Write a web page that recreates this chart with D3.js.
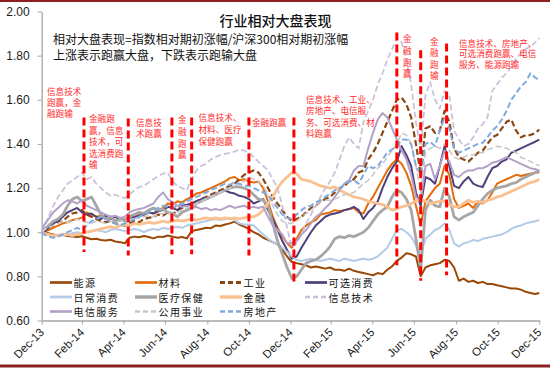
<!DOCTYPE html>
<html><head><meta charset="utf-8">
<script src="https://cdn.jsdelivr.net/npm/d3@7/dist/d3.min.js"></script>
<style>body{margin:0;background:#fff;}svg{display:block;}</style>
</head><body><svg id="c" width="550" height="368"></svg>
<script>
// ---------------- DATA ----------------
const seriesNames = ["能源","材料","工业","可选消费","日常消费","医疗保健","金融","信息技术","电信服务","公用事业","房地产"];

// weekly observations: 2013-12-31, every Friday of 2014-2015, 2015-12-31
const energy = [
1.00,1.00,0.995,0.99,0.985,0.988,0.983,0.98,0.978,0.982,
0.975,0.968,0.97,0.965,0.962,0.966,0.958,0.955,0.95,0.975,
0.98,0.977,0.983,0.978,0.972,0.98,0.978,0.985,0.98,0.975,
0.978,0.972,1.005,1.01,1.015,1.02,1.018,1.03,1.028,1.035,
1.04,1.048,1.035,1.025,1.015,1.00,0.99,0.975,0.965,0.955,
0.945,0.92,0.89,0.865,0.86,0.855,0.85,0.84,0.845,0.84,
0.835,0.84,0.83,0.83,0.825,0.835,0.825,0.82,0.815,0.81,
0.805,0.815,0.81,0.83,0.845,0.87,0.885,0.905,0.90,0.89,
0.80,0.84,0.85,0.855,0.86,0.875,0.87,0.84,0.78,0.79,
0.775,0.78,0.77,0.775,0.765,0.765,0.76,0.755,0.75,0.745,
0.745,0.74,0.73,0.725,0.72,0.725];
const materials = [
1.00,1.00,1.01,1.02,1.03,1.04,1.045,1.055,1.06,1.065,
1.09,1.08,1.07,1.075,1.065,1.06,1.055,1.06,1.055,1.075,
1.08,1.085,1.08,1.09,1.085,1.10,1.11,1.13,1.125,1.14,
1.135,1.15,1.16,1.175,1.18,1.19,1.20,1.21,1.22,1.23,
1.245,1.25,1.235,1.24,1.23,1.225,1.23,1.20,1.14,1.07,
1.02,0.98,0.95,0.93,0.97,1.01,1.03,1.045,1.055,1.08,
1.085,1.09,1.10,1.095,1.10,1.105,1.11,1.09,1.085,1.13,
1.16,1.20,1.24,1.28,1.31,1.33,1.31,1.27,1.21,1.12,
1.03,1.14,1.17,1.20,1.22,1.30,1.26,1.15,1.11,1.12,
1.13,1.11,1.14,1.13,1.145,1.18,1.22,1.23,1.24,1.25,
1.26,1.255,1.26,1.265,1.27,1.27];
const industrials = [
1.00,1.00,1.02,1.03,1.045,1.05,1.07,1.085,1.09,1.10,
1.08,1.07,1.06,1.05,1.045,1.05,1.04,1.035,1.03,1.04,
1.05,1.045,1.06,1.065,1.07,1.08,1.075,1.09,1.08,1.10,
1.11,1.12,1.13,1.14,1.15,1.16,1.17,1.18,1.19,1.20,
1.21,1.22,1.24,1.26,1.27,1.28,1.27,1.24,1.20,1.16,
1.13,1.10,1.07,1.05,1.06,1.07,1.09,1.11,1.12,1.14,
1.15,1.16,1.18,1.20,1.21,1.23,1.24,1.27,1.28,1.33,
1.36,1.40,1.45,1.50,1.55,1.60,1.61,1.58,1.52,1.40,
1.26,1.47,1.48,1.45,1.46,1.55,1.50,1.38,1.34,1.33,
1.32,1.34,1.36,1.37,1.40,1.43,1.44,1.47,1.50,1.51,
1.46,1.43,1.44,1.44,1.45,1.465];
const consDisc = [
1.00,1.00,1.02,1.04,1.05,1.07,1.09,1.10,1.11,1.09,
1.08,1.085,1.07,1.06,1.075,1.065,1.07,1.06,1.055,1.065,
1.07,1.075,1.08,1.09,1.085,1.095,1.10,1.115,1.11,1.10,
1.12,1.125,1.13,1.14,1.15,1.155,1.16,1.17,1.185,1.19,
1.18,1.175,1.165,1.16,1.15,1.13,1.14,1.15,1.10,1.06,
1.01,0.96,0.92,0.88,0.89,0.93,0.965,1.00,1.03,1.05,
1.07,1.08,1.085,1.09,1.10,1.105,1.115,1.10,1.06,1.09,
1.11,1.14,1.20,1.25,1.29,1.32,1.39,1.35,1.30,1.18,
1.12,1.25,1.24,1.22,1.30,1.39,1.30,1.21,1.20,1.23,
1.25,1.22,1.21,1.205,1.25,1.29,1.30,1.32,1.33,1.36,
1.37,1.38,1.39,1.40,1.41,1.42];
const staples = [
1.00,0.995,0.99,0.985,0.99,0.985,0.99,0.995,1.00,0.995,
1.00,1.005,1.01,1.005,1.00,1.01,1.015,1.01,1.005,1.01,
1.015,1.01,1.00,1.01,1.015,1.01,1.02,1.015,1.02,1.025,
1.02,1.03,1.035,1.04,1.045,1.05,1.055,1.06,1.055,1.06,
1.065,1.055,1.04,1.035,1.035,1.03,1.01,0.99,0.97,0.955,
0.945,0.93,0.91,0.89,0.875,0.87,0.875,0.88,0.875,0.87,
0.875,0.88,0.875,0.87,0.88,0.875,0.87,0.875,0.88,0.875,
0.88,0.89,0.91,0.93,0.97,1.01,1.015,1.00,0.98,0.94,
0.90,0.97,0.99,1.01,1.02,1.04,1.01,0.95,0.935,0.95,
0.955,0.965,0.96,0.97,0.975,0.98,0.985,0.99,1.00,1.015,
1.025,1.03,1.04,1.045,1.05,1.055];
const healthcare = [
1.00,1.01,1.03,1.05,1.06,1.08,1.12,1.15,1.16,1.14,
1.15,1.16,1.12,1.08,1.06,1.07,1.05,1.06,1.05,1.07,
1.08,1.09,1.085,1.10,1.11,1.10,1.105,1.09,1.085,1.07,
1.09,1.10,1.11,1.13,1.14,1.15,1.16,1.17,1.18,1.19,
1.20,1.205,1.205,1.20,1.19,1.17,1.15,1.145,1.12,1.04,
0.96,0.90,0.84,0.79,0.80,0.83,0.86,0.87,0.875,0.89,
0.91,0.935,0.97,0.98,0.975,0.985,0.98,0.99,1.00,1.02,
1.05,1.08,1.10,1.115,1.16,1.19,1.18,1.15,1.10,0.97,
0.83,1.10,1.145,1.12,1.115,1.20,1.16,1.07,1.055,1.07,
1.08,1.09,1.12,1.15,1.175,1.19,1.20,1.205,1.21,1.22,
1.225,1.24,1.25,1.26,1.27,1.28];
const financials = [
1.00,0.995,0.99,0.985,0.985,0.99,0.99,0.985,0.99,0.995,
1.00,1.005,1.01,1.015,1.02,1.025,1.02,1.03,1.035,1.03,
1.04,1.035,1.04,1.045,1.04,1.045,1.05,1.045,1.05,1.055,
1.05,1.055,1.06,1.055,1.06,1.065,1.06,1.065,1.06,1.065,
1.06,1.065,1.06,1.065,1.07,1.07,1.08,1.10,1.13,1.16,
1.20,1.23,1.25,1.27,1.265,1.24,1.235,1.23,1.22,1.21,
1.205,1.20,1.205,1.19,1.18,1.17,1.16,1.155,1.15,1.14,
1.135,1.13,1.125,1.115,1.10,1.105,1.115,1.12,1.13,1.14,
1.15,1.14,1.13,1.135,1.14,1.14,1.125,1.115,1.115,1.13,
1.145,1.135,1.14,1.135,1.145,1.15,1.16,1.165,1.175,1.185,
1.195,1.205,1.215,1.225,1.23,1.24];
const infoTech = [
1.00,1.02,1.07,1.12,1.16,1.19,1.22,1.235,1.25,1.27,
1.24,1.25,1.22,1.20,1.18,1.165,1.17,1.16,1.155,1.17,
1.19,1.205,1.21,1.225,1.24,1.255,1.265,1.27,1.23,1.21,
1.20,1.19,1.24,1.28,1.30,1.31,1.33,1.34,1.35,1.355,
1.36,1.365,1.375,1.37,1.36,1.34,1.32,1.30,1.28,1.24,
1.20,1.12,1.02,0.93,0.95,0.99,1.04,1.08,1.12,1.16,
1.20,1.23,1.27,1.33,1.39,1.43,1.40,1.38,1.50,1.55,
1.60,1.67,1.72,1.78,1.83,1.88,1.86,1.78,1.67,1.50,
1.37,1.62,1.68,1.60,1.56,1.64,1.62,1.46,1.42,1.39,
1.40,1.43,1.47,1.49,1.52,1.64,1.67,1.70,1.72,1.75,
1.79,1.81,1.83,1.84,1.86,1.88];
const telecom = [
1.00,1.03,1.06,1.09,1.11,1.13,1.145,1.14,1.13,1.145,
1.12,1.11,1.10,1.09,1.08,1.07,1.075,1.065,1.07,1.09,
1.10,1.105,1.11,1.12,1.13,1.16,1.18,1.15,1.135,1.12,
1.115,1.12,1.11,1.115,1.105,1.11,1.10,1.105,1.10,1.11,
1.12,1.11,1.115,1.12,1.11,1.115,1.11,1.115,1.07,1.03,
1.01,0.99,0.95,0.95,0.96,0.99,1.01,1.04,1.07,1.085,
1.11,1.13,1.16,1.19,1.22,1.235,1.28,1.30,1.30,1.38,
1.45,1.51,1.54,1.52,1.47,1.42,1.37,1.33,1.26,1.16,
1.14,1.30,1.31,1.24,1.30,1.37,1.32,1.26,1.25,1.27,
1.28,1.28,1.29,1.29,1.30,1.315,1.32,1.33,1.34,1.33,
1.32,1.31,1.30,1.29,1.285,1.28];
const utilities = [
1.00,1.01,1.02,1.03,1.04,1.05,1.045,1.05,1.06,1.05,
1.045,1.04,1.05,1.045,1.04,1.05,1.045,1.05,1.055,1.05,
1.06,1.065,1.07,1.075,1.07,1.08,1.085,1.09,1.08,1.09,
1.10,1.11,1.12,1.13,1.14,1.15,1.16,1.17,1.18,1.19,
1.20,1.21,1.22,1.23,1.25,1.24,1.23,1.21,1.17,1.12,
1.08,1.05,1.04,1.04,1.05,1.07,1.085,1.10,1.12,1.14,
1.145,1.145,1.15,1.16,1.17,1.175,1.18,1.20,1.22,1.235,
1.26,1.29,1.31,1.34,1.37,1.40,1.45,1.44,1.40,1.30,
1.18,1.36,1.38,1.39,1.38,1.40,1.37,1.34,1.33,1.34,
1.35,1.35,1.36,1.36,1.375,1.38,1.39,1.385,1.38,1.37,
1.36,1.34,1.33,1.32,1.31,1.30];
const realEstate = [
1.00,0.99,0.98,0.975,0.98,0.99,1.00,1.01,1.02,1.01,
1.03,1.05,1.06,1.07,1.06,1.05,1.04,1.03,1.04,1.05,
1.06,1.07,1.08,1.09,1.10,1.11,1.12,1.115,1.11,1.12,
1.13,1.14,1.15,1.16,1.17,1.18,1.19,1.20,1.21,1.22,
1.215,1.225,1.22,1.21,1.21,1.20,1.19,1.18,1.17,1.14,
1.11,1.08,1.065,1.06,1.08,1.10,1.115,1.12,1.135,1.145,
1.16,1.175,1.19,1.20,1.215,1.23,1.235,1.22,1.26,1.30,
1.29,1.30,1.33,1.36,1.375,1.39,1.42,1.42,1.40,1.30,
1.26,1.40,1.41,1.39,1.46,1.52,1.47,1.38,1.36,1.37,
1.38,1.39,1.40,1.405,1.43,1.46,1.48,1.51,1.55,1.60,
1.63,1.66,1.68,1.72,1.70,1.69];

const tickDates  = ["2013-12-31","2014-02-28","2014-04-30","2014-06-30","2014-08-31","2014-10-31","2014-12-31","2015-02-28","2015-04-30","2015-06-30","2015-08-31","2015-10-31","2015-12-31"];
const tickLabels = ["Dec-13","Feb-14","Apr-14","Jun-14","Aug-14","Oct-14","Dec-14","Feb-15","Apr-15","Jun-15","Aug-15","Oct-15","Dec-15"];
const yTicks = [0.6,0.8,1.0,1.2,1.4,1.6,1.8,2.0];

// event markers (date, value range covered by the red dashed line)
const eventDates  = ["2014-03-03","2014-05-07","2014-07-10","2014-08-08","2014-10-31","2015-01-05","2015-06-05","2015-07-10","2015-08-17"];
const eventTop    = [1.52,1.515,1.52,1.52,1.52,1.52,1.905,1.825,1.855];
const eventBottom = [0.91,0.895,0.90,0.90,0.895,0.76,0.85,0.78,0.805];

const titleText = "行业相对大盘表现";
const noteLines = ["相对大盘表现=指数相对期初涨幅/沪深300相对期初涨幅","上涨表示跑赢大盘，下跌表示跑输大盘"];
const eventNotes = [
  ["信息技术","跑赢，金","融跑输"],
  ["金融跑","赢，信息","技术，可","选消费跑","输"],
  ["信息技","术跑赢"],
  ["金","融","跑","赢"],
  ["信息技术、","材料、医疗","保健跑赢"],
  ["金融跑赢"],
  ["信息技术、工业、","房地产、电信服","务、可选消费、材","料跑赢"],
  ["金","融","跑","赢"],
  ["金","融","跑","输"],
  ["信息技术、房地产、","可选消费跑赢、电信","服务、能源跑输"]
];

// ---------------- DRAWING ----------------
const allSeries = [energy,materials,industrials,consDisc,staples,healthcare,financials,infoTech,telecom,utilities,realEstate];
const styles = {
  "能源":    {c:"#984807", w:2,   d:null},
  "材料":    {c:"#E46C0A", w:2,   d:null},
  "工业":    {c:"#8B4510", w:2.2, d:"6,3"},
  "可选消费": {c:"#4F3F7A", w:2,   d:null},
  "日常消费": {c:"#B3CBE8", w:2,   d:null},
  "医疗保健": {c:"#A6A6A6", w:2.8, d:null},
  "金融":    {c:"#FAC090", w:2.8, d:null},
  "信息技术": {c:"#CCC1DA", w:1.8, d:"6,3"},
  "电信服务": {c:"#B3A2C7", w:2,   d:null},
  "公用事业": {c:"#C8C8C8", w:1.6, d:"6,3"},
  "房地产":  {c:"#7FAADF", w:2,   d:"6,3"}
};
const cjk = "'Noto Sans CJK SC','Noto Sans',sans-serif";
const lat = "'Liberation Sans',Arial,sans-serif";

const svg = d3.select("#c");
const plot = {left:41.7, right:539.3, top:11.5, bottom:320.5};
const parse = d3.timeParse("%Y-%m-%d");
const obsDates = [parse("2013-12-31"), ...d3.timeFriday.range(parse("2014-01-01"), parse("2015-12-26")), parse("2015-12-31")];

const x = d3.scaleTime().domain([parse("2013-12-31"), parse("2015-12-31")]).range([plot.left, plot.right]);
const y = d3.scaleLinear().domain([0.6, 2.0]).range([plot.bottom, plot.top]);

svg.append("rect").attr("width",550).attr("height",368).attr("fill","#fff");
svg.append("rect").attr("x",0).attr("y",0).attr("width",550).attr("height",2).attr("fill","#8C2020");
svg.append("rect").attr("x",0).attr("y",364.5).attr("width",550).attr("height",3).attr("fill","#8C2020");

// y axis
const ya = svg.append("g").attr("transform",`translate(${plot.left},0)`)
  .call(d3.axisLeft(y).tickValues(yTicks).tickFormat(d3.format(".2f")).tickSize(4).tickSizeOuter(0).tickPadding(8));
ya.select(".domain").attr("stroke","#A6A6A6").attr("stroke-width",1.3);
ya.selectAll(".tick line").attr("stroke","#A6A6A6");
ya.selectAll("text").attr("font-family",lat).attr("font-size",12).attr("fill","#1a1a1a");

// x axis
const xa = svg.append("g").attr("transform",`translate(0,${plot.bottom})`)
  .call(d3.axisBottom(x).tickValues(tickDates.map(parse)).tickFormat((d,i)=>tickLabels[i]).tickSize(4).tickSizeOuter(0));
xa.select(".domain").attr("stroke","#A6A6A6").attr("stroke-width",1.3);
xa.selectAll(".tick line").attr("stroke","#A6A6A6");
xa.selectAll("text").attr("y",null).attr("dy",null).attr("x",null)
  .attr("text-anchor","end").attr("transform","translate(2.5,12.5) rotate(-45)")
  .attr("font-family",lat).attr("font-size",11.5).attr("fill","#1a1a1a");

// series
const line = d3.line().x(d=>x(d[0])).y(d=>y(d[1]));
allSeries.forEach((vals,i)=>{
  const st = styles[seriesNames[i]];
  const pts = vals.map((v,k)=>[obsDates[k],v]).filter(p=>p[0]);
  svg.append("path").datum(pts).attr("d",line)
    .attr("fill","none").attr("stroke",st.c).attr("stroke-width",st.w)
    .attr("stroke-dasharray",st.d).attr("stroke-linejoin","round");
});

// red event markers
eventDates.forEach((d,i)=>{
  const xx = x(parse(d));
  svg.append("line").attr("x1",xx).attr("x2",xx).attr("y1",y(eventTop[i])).attr("y2",y(eventBottom[i]))
    .attr("stroke","#FF0000").attr("stroke-width",3).attr("stroke-dasharray","8,4");
});

// titles
svg.append("text").attr("x",275.5).attr("y",20).attr("text-anchor","middle").attr("dominant-baseline","central")
  .attr("font-family",cjk).attr("font-size",14).attr("font-weight",500).attr("fill","#111").text(titleText);
noteLines.forEach((t,i)=>{
  svg.append("text").attr("x",53).attr("y",[38,54.5][i]).attr("dominant-baseline","central")
    .attr("font-family",cjk).attr("font-size",12).attr("fill","#111").text(t);
});

// red event notes
const notePos = [[47,90.7,11.3],[89,118.3,11.5],[136,121.7,11],[178,119.3,11.7],[198.5,116.7,12],[252,121.7,11],
                 [306,99,11.4],[403,38.3,11.7],[430,40.7,11.4],[459,42.5,10.8]];
eventNotes.forEach((lines,i)=>{
  const [px,py,dy] = notePos[i];
  lines.forEach((t,j)=>{
    svg.append("text").attr("x",px).attr("y",py+j*dy).attr("dominant-baseline","central")
      .attr("font-family",cjk).attr("font-size",8.6).attr("fill","#FF2A2A").text(t);
  });
});

// legend
seriesNames.forEach((n,i)=>{
  const st = styles[n];
  const col = i%4, row = Math.floor(i/4);
  const lx = 50 + 85*col, ly = 282.5 + 14.5*row;
  svg.append("line").attr("x1",lx).attr("x2",lx+22).attr("y1",ly).attr("y2",ly)
    .attr("stroke",st.c).attr("stroke-width",st.w+0.7).attr("stroke-dasharray",st.d?"5,3":null);
  svg.append("text").attr("x",lx+23.5).attr("y",ly).attr("dominant-baseline","central")
    .attr("font-family",cjk).attr("font-size",10).attr("letter-spacing",1.4).attr("fill","#111").text(n);
});
</script>
</body></html>
